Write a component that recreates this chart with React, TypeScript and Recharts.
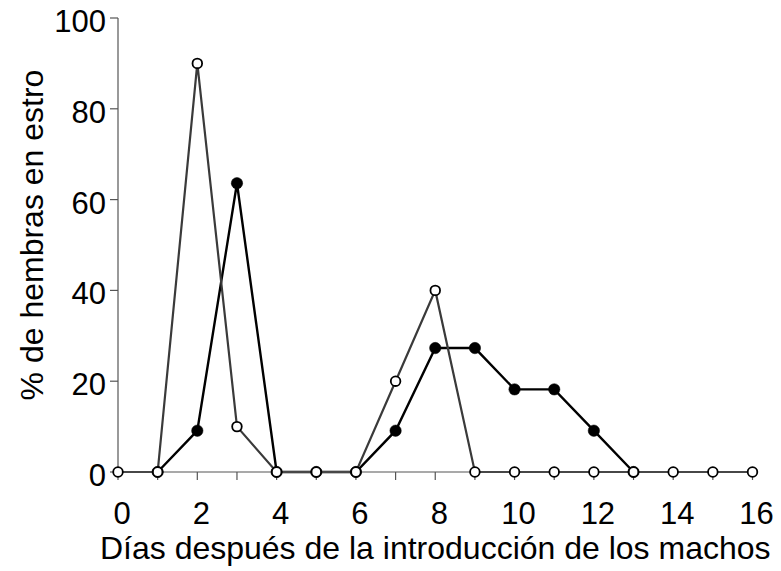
import React from 'react';
import { LineChart, Line, XAxis, YAxis, Label } from 'recharts';

// days after the males were introduced
const days = [0, 1, 2, 3, 4, 5, 6, 7, 8, 9, 10, 11, 12, 13, 14, 15, 16];
// open circles
const openPct = [0, 0, 90, 10, 0, 0, 0, 20, 40, 0, 0, 0, 0, 0, 0, 0, 0];
// filled circles (days 1-13)
const filledPct = [null, 0, 9.1, 63.6, 0, 0, 0, 9.1, 27.3, 27.3, 18.2, 18.2, 9.1, 0, null, null, null];
const yTicks = [0, 20, 40, 60, 80, 100];

const xLabel = 'Días después de la introducción de los machos';
const yLabel = '% de hembras en estro';

const data = days.map((d, i) => ({ day: d, open: openPct[i], filled: filledPct[i] }));

const FONT = '"Liberation Sans", Arial, sans-serif';
const AXIS = '#555';

const XTick = (props: any) => {
  const { x, y, payload } = props;
  if (payload.value % 2 !== 0) return null;
  return (
    <text x={x + 4} y={y} dy={44} textAnchor="middle" fontSize={31} fontFamily={FONT} fill="#000">
      {payload.value}
    </text>
  );
};

const YTick = (props: any) => {
  const { x, y, payload } = props;
  return (
    <text x={x} y={y} dy={14} textAnchor="end" fontSize={31} fontFamily={FONT} fill="#000">
      {payload.value}
    </text>
  );
};

const YTitle = (props: any) => {
  const vb = props.viewBox || { x: 0, y: 18, width: 118, height: 454 };
  const cx = vb.x + 43;
  const cy = vb.y + vb.height / 2 - 10;
  return (
    <text x={cx} y={cy} transform={`rotate(-90 ${cx} ${cy})`} textAnchor="middle" fontSize={32} fontFamily={FONT} fill="#000">
      {yLabel}
    </text>
  );
};

export default function App() {
  return (
    <div style={{ position: 'absolute', left: 0, top: 0, background: '#fff' }}>
      <LineChart width={781} height={571} data={data} margin={{ top: 18, right: 28.5, bottom: 0, left: 0 }}>
        <XAxis
          dataKey="day"
          type="number"
          domain={[0, 16]}
          ticks={days}
          interval={0}
          height={99}
          tickSize={8}
          tickMargin={0}
          axisLine={{ stroke: AXIS, strokeWidth: 1.2 }}
          tickLine={{ stroke: AXIS, strokeWidth: 1.2 }}
          tick={<XTick />}
        >
          <Label value={xLabel} position="insideBottom" offset={12} fontSize={32} fontFamily={FONT} fill="#000" />
        </XAxis>
        <YAxis
          type="number"
          domain={[0, 100]}
          ticks={yTicks}
          interval={0}
          width={118}
          tickSize={8}
          tickMargin={4}
          axisLine={{ stroke: AXIS, strokeWidth: 1.2 }}
          tickLine={{ stroke: AXIS, strokeWidth: 1.2 }}
          tick={<YTick />}
        >
          <Label content={<YTitle />} />
        </YAxis>
        <Line
          dataKey="filled"
          stroke="#000"
          strokeWidth={2.4}
          dot={{ r: 5.7, fill: '#000', stroke: '#000', strokeWidth: 0.5 }}
          isAnimationActive={false}
        />
        <Line
          dataKey="open"
          stroke="#3a3a3a"
          strokeWidth={2.2}
          dot={{ r: 4.8, fill: '#fff', stroke: '#000', strokeWidth: 1.8 }}
          isAnimationActive={false}
        />
      </LineChart>
    </div>
  );
}
